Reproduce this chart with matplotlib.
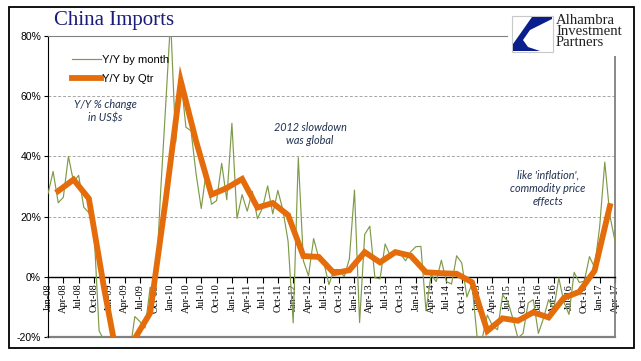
import matplotlib
matplotlib.use("Agg")
import matplotlib.pyplot as plt
from matplotlib.patches import Rectangle, Polygon
import numpy as np

# monthly Y/Y % change, Jan-08 .. Apr-17
monthly = [
    27.6, 35.0, 24.6, 26.4, 40.0, 31.6, 33.7, 23.1, 21.3, 15.6, -17.9, -21.3,   # 2008
    -43.1, -24.1, -25.1, -23.0, -25.2, -13.2, -14.9, -17.0, -3.5, -6.4, 26.7, 55.9,  # 2009
    85.5, 44.7, 66.0, 49.7, 48.5, 34.1, 22.7, 35.2, 24.1, 25.3, 37.7, 25.6,   # 2010
    51.0, 19.4, 27.3, 21.8, 28.4, 19.3, 22.9, 30.2, 20.9, 28.7, 22.1, 11.8,   # 2011
    -15.3, 39.6, 5.3, 0.3, 12.7, 6.3, 4.7, -2.6, 2.4, 2.4, 0.0, 6.0,          # 2012
    28.8, -15.2, 14.1, 16.8, -0.3, -0.7, 10.9, 7.0, 7.4, 7.6, 5.3, 8.3,       # 2013
    10.0, 10.1, -11.3, 0.8, -1.6, 5.5, -1.6, -2.4, 7.0, 4.6, -6.7, -2.4,      # 2014
    -19.9, -20.5, -12.7, -16.2, -17.6, -6.1, -8.1, -13.8, -20.4, -18.8, -8.7, -7.6,  # 2015
    -18.8, -13.8, -7.6, -10.9, -0.4, -8.4, -12.5, 1.5, -1.9, -1.4, 6.7, 3.1,  # 2016
    16.7, 38.1, 20.3, 11.9,                                                    # 2017
]

# quarterly Y/Y % change, Q1-08 .. Q1-17 (plotted at quarter's last month)
quarterly = [
    28.5, 32.3, 26.0, -4.0,
    -31.0, -20.5, -12.0, 25.0,
    65.0, 45.0, 27.3, 29.5,
    32.5, 23.0, 24.5, 20.5,
    6.9, 6.6, 1.2, 2.2,
    8.2, 4.8, 8.2, 7.0,
    1.5, 1.2, 1.0, -1.8,
    -18.0, -13.8, -14.6, -11.8,
    -13.5, -7.0, -5.0, 2.0,
    23.5,
]

months = ["Jan", "Apr", "Jul", "Oct"]
tick_labels = [f"{m}-{y:02d}" for y in range(8, 18) for m in months][:38]

x_month = np.arange(len(monthly))
x_qtr = np.arange(len(quarterly)) * 3 + 2

W, H = 641, 361
fig = plt.figure(figsize=(W / 100, H / 100), dpi=100)
fig.patch.set_facecolor("white")


def px(x, y):
    return x / W, 1 - y / H


ax = fig.add_axes([48 / W, 1 - 337 / H, (615 - 48) / W, (337 - 36) / H])

ax.plot(x_month, monthly, color="#7F9A48", lw=0.85, label="Y/Y by month", zorder=3)
ax.plot(x_qtr, quarterly, color="#E46C0A", lw=4.2, label="Y/Y by Qtr",
        solid_joinstyle="miter", zorder=4)

ax.set_xlim(0, len(monthly) - 1)
ax.set_ylim(-20, 80)

for g in [20, 40, 60]:
    ax.axhline(g, color="#a6a6a6", lw=0.7, ls=(0, (3, 2)), zorder=1)
ax.axhline(-20, color="#808080", lw=1.6, zorder=2, clip_on=False)

ax.spines["bottom"].set_position(("data", 0))
ax.spines["bottom"].set_color("black")
ax.spines["bottom"].set_linewidth(1.0)
ax.spines["left"].set_color("black")
ax.spines["top"].set_color("#808080")
ax.spines["right"].set_color("#808080")
ax.spines["right"].set_linewidth(1.3)

ax.set_yticks([-20, 0, 20, 40, 60, 80])
ax.set_yticklabels(["-20%", "0%", "20%", "40%", "60%", "80%"],
                   fontfamily="Liberation Sans", fontsize=7.5)
ax.set_xticks(np.arange(0, len(monthly), 3))
ax.set_xticklabels(tick_labels, rotation=90, fontfamily="Liberation Serif",
                   fontsize=7.5)
ax.tick_params(axis="x", direction="out", length=4, width=0.8, pad=1)
ax.tick_params(axis="y", direction="out", length=3, width=0.8, pad=2)
for lab in ax.get_xticklabels():
    lab.set_verticalalignment("top")

ax.legend(loc="upper left", bbox_to_anchor=(0.025, 0.97), frameon=False,
          handlelength=2.6, handletextpad=0.05, labelspacing=0.8,
          prop={"family": "Liberation Sans", "size": 8})

note_kw = dict(fontfamily="Lato", style="italic", fontsize=7.8,
               color="#1F3050", ha="center", va="center", linespacing=1.25)
fig.text(*px(105, 111), "Y/Y % change\nin US$s", **note_kw)
fig.text(*px(310, 134), "2012 slowdown\nwas global", **note_kw)
fig.text(*px(548, 188), "like 'inflation',\ncommodity price\neffects", **note_kw)

fig.text(*px(54, 21), "China Imports", fontfamily="Liberation Serif",
         fontsize=15, color="#1B1B7A", ha="left", va="center")

# logo area
fig.add_artist(Rectangle(px(508, 56), 126 / W, 48 / H, transform=fig.transFigure,
                         facecolor="white", edgecolor="none", zorder=5))
fig.add_artist(Rectangle(px(512, 52), 41 / W, 36 / H, transform=fig.transFigure,
                         facecolor="white", edgecolor="#c8c8c8", lw=0.8, zorder=6))
blue = [(532, 17), (552, 17), (552, 19), (530, 30), (523, 40), (528, 47),
        (540, 51), (513, 51), (513, 44)]
fig.add_artist(Polygon([px(a, b) for a, b in blue], closed=True,
                       transform=fig.transFigure, facecolor="#0B1F8C",
                       edgecolor="none", zorder=7))
fig.text(*px(556, 14), "Alhambra\nInvestment\nPartners", fontfamily="Liberation Serif",
         fontsize=10.6, color="#222222", ha="left", va="top", linespacing=0.78,
         zorder=7)

fig.add_artist(Rectangle(px(9, 348), 625 / W, 341 / H, transform=fig.transFigure,
                         facecolor="none", edgecolor="black", lw=1.3, zorder=8))

fig.savefig("out.png", dpi=100)
